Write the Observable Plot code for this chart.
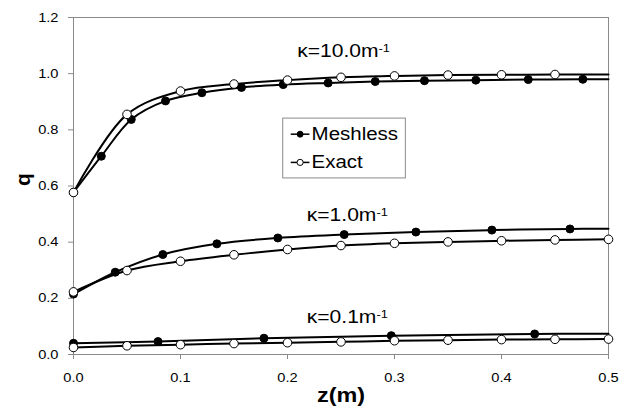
<!DOCTYPE html>
<html><head><meta charset="utf-8">
<script src="https://cdn.jsdelivr.net/npm/d3@7"></script>
<script src="https://cdn.jsdelivr.net/npm/@observablehq/plot@0.6"></script>
<style>
body{margin:0;background:#fff;}
#chart{width:624px;height:410px;}
</style></head><body><div id="chart"></div>
<script>
// ---- data ----
// kappa = 10.0 1/m
const meshZ10 = [0, 0.026, 0.054, 0.086, 0.120, 0.157, 0.196, 0.238, 0.282, 0.328, 0.376, 0.425, 0.476];
const meshQ10 = [0.577, 0.706, 0.837, 0.903, 0.932, 0.951, 0.961, 0.967, 0.972, 0.975, 0.977, 0.979, 0.980];
const meshEnd10 = 0.980;
const exactZ10 = [0, 0.05, 0.10, 0.15, 0.20, 0.25, 0.30, 0.35, 0.40, 0.45];
const exactQ10 = [0.577, 0.855, 0.938, 0.963, 0.977, 0.987, 0.992, 0.995, 0.996, 0.997];
const exactEnd10 = 0.997;
// kappa = 1.0 1/m
const meshZ1 = [0, 0.039, 0.0835, 0.134, 0.191, 0.253, 0.320, 0.391, 0.464];
const meshQ1 = [0.215, 0.293, 0.356, 0.394, 0.415, 0.427, 0.436, 0.443, 0.447];
const meshEnd1 = 0.448;
const exactZ1 = [0, 0.05, 0.10, 0.15, 0.20, 0.25, 0.30, 0.35, 0.40, 0.45, 0.50];
const exactQ1 = [0.223, 0.299, 0.332, 0.355, 0.374, 0.388, 0.396, 0.401, 0.405, 0.408, 0.410];
const exactEnd1 = null;
// kappa = 0.1 1/m
const meshZ01 = [0, 0.079, 0.178, 0.297, 0.431];
const meshQ01 = [0.040, 0.046, 0.058, 0.067, 0.073];
const meshEnd01 = 0.074;
const exactZ01 = [0, 0.05, 0.10, 0.15, 0.20, 0.25, 0.30, 0.35, 0.40, 0.45, 0.50];
const exactQ01 = [0.025, 0.031, 0.035, 0.039, 0.042, 0.045, 0.049, 0.051, 0.053, 0.054, 0.055];
const exactEnd01 = null;

const xTicks = [0, 0.1, 0.2, 0.3, 0.4, 0.5];
const yTicks = [0, 0.2, 0.4, 0.6, 0.8, 1.0, 1.2];
const curveLabels = ["κ=10.0m", "κ=1.0m", "κ=0.1m"];
const labelSup = "-1";
const labelZ = [0.209, 0.218, 0.218];
const labelQ = [1.058, 0.476, 0.1125];
const legendNames = ["Meshless", "Exact"];
const xTitle = "z(m)";
const yTitle = "q";

// ---- build tables ----
const series = [
  {method: "Meshless", kappa: "10", z: meshZ10, q: meshQ10, end: meshEnd10},
  {method: "Meshless", kappa: "1", z: meshZ1, q: meshQ1, end: meshEnd1},
  {method: "Meshless", kappa: "0.1", z: meshZ01, q: meshQ01, end: meshEnd01},
  {method: "Exact", kappa: "10", z: exactZ10, q: exactQ10, end: exactEnd10},
  {method: "Exact", kappa: "1", z: exactZ1, q: exactQ1, end: exactEnd1},
  {method: "Exact", kappa: "0.1", z: exactZ01, q: exactQ01, end: exactEnd01}
];
const pts = s => s.z.map((z, i) => ({z, q: s.q[i], key: s.method + s.kappa}));
const linePts = s => s.end == null ? pts(s) : pts(s).concat([{z: 0.5, q: s.end, key: s.method + s.kappa}]);
const meshSeries = series.filter(s => s.method === "Meshless");
const exactSeries = series.filter(s => s.method === "Exact");
const meshLine = meshSeries.flatMap(linePts), meshDots = meshSeries.flatMap(pts);
const exactLine = exactSeries.flatMap(linePts), exactDots = exactSeries.flatMap(pts);
const labels = curveLabels.map((t, i) => ({t, z: labelZ[i], q: labelQ[i]}));

// legend geometry (data coords)
const LG = {x1: 0.196, x2: 0.3106, y1: 0.627, y2: 0.840, lx1: 0.203, lx2: 0.2205, mx: 0.2118, tx: 0.2225, rows: [0.7845, 0.684]};

const plot = Plot.plot({
  width: 624, height: 410,
  marginLeft: 73, marginRight: 16, marginTop: 17, marginBottom: 56,
  style: {fontFamily: "'Liberation Sans', Arial, sans-serif", background: "white", color: "black", overflow: "visible"},
  x: {domain: [0, 0.5]},
  y: {domain: [0, 1.2]},
  marks: [
    Plot.frame({stroke: "#8a8a8a"}),
    Plot.line(meshLine, {x: "z", y: "q", z: "key", curve: "catmull-rom", stroke: "black", strokeWidth: 2}),
    Plot.dot(meshDots, {x: "z", y: "q", r: 4, fill: "black", stroke: "black", strokeWidth: 1}),
    Plot.line(exactLine, {x: "z", y: "q", z: "key", curve: "catmull-rom", stroke: "black", strokeWidth: 2}),
    Plot.dot(exactDots, {x: "z", y: "q", r: 4.3, fill: "white", stroke: "black", strokeWidth: 1}),
    Plot.text(labels, {x: "z", y: "q", text: "t", textAnchor: "start", lineAnchor: "bottom", fontSize: 18, fill: "black"}),
    // legend
    Plot.rect([legendNames], {x1: () => LG.x1, x2: () => LG.x2, y1: () => LG.y1, y2: () => LG.y2, fill: "white", stroke: "#8a8a8a", strokeWidth: 1}),
    Plot.link(legendNames, {x1: () => LG.lx1, x2: () => LG.lx2, y1: (d, i) => LG.rows[i], y2: (d, i) => LG.rows[i], stroke: "black", strokeWidth: 1.5}),
    Plot.dot(legendNames, {x: () => LG.mx, y: (d, i) => LG.rows[i], r: (d, i) => i === 0 ? 3.5 : 3.8, fill: (d, i) => i === 0 ? "black" : "white", stroke: "black", strokeWidth: 1}),
    Plot.text(legendNames, {x: () => LG.tx, y: (d, i) => LG.rows[i], text: d => d, textAnchor: "start", lineAnchor: "middle", fontSize: 17.5, fill: "black"}),
    // axes
    Plot.axisX(xTicks, {tickFormat: d3.format(".1f"), tickSize: 5, tickPadding: 14, fontSize: 12.5, stroke: "#8a8a8a", fill: "black", label: null}),
    Plot.axisY(yTicks, {tickFormat: d3.format(".1f"), tickSize: 5, tickPadding: 10, fontSize: 12.5, stroke: "#8a8a8a", fill: "black", label: null}),
    Plot.text([xTitle], {frameAnchor: "bottom", dy: 47, lineAnchor: "bottom", text: d => d, fontSize: 20, fontWeight: "bold", fill: "black"}),
    Plot.text([yTitle], {frameAnchor: "left", dx: -50, rotate: -90, text: d => d, fontSize: 21, fontWeight: "bold", fill: "black"})
  ]
});
document.getElementById("chart").append(plot);

// superscripts on the kappa labels
plot.querySelectorAll("text").forEach(t => {
  if (curveLabels.includes(t.textContent)) {
    const ts = document.createElementNS("http://www.w3.org/2000/svg", "tspan");
    ts.setAttribute("dy", "-0.45em");
    ts.setAttribute("font-size", "11");
    ts.textContent = labelSup;
    t.appendChild(ts);
  }
});
// horizontal widening of glyphs, as in the reference
plot.querySelectorAll("text").forEach(t => {
  if (t.textContent === yTitle) return;
  const len = t.getComputedTextLength();
  if (len > 0) {
    t.setAttribute("textLength", (len * 1.17).toFixed(2));
    t.setAttribute("lengthAdjust", "spacingAndGlyphs");
  }
});
</script>
</body></html>
